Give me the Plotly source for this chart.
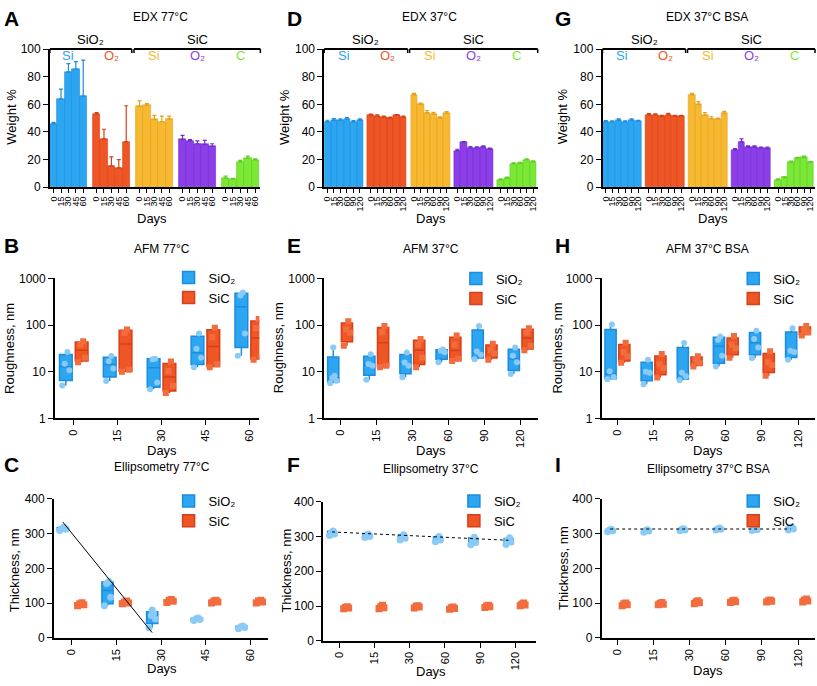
import plotly.graph_objects as go
import numpy as np

W, H = 817, 686
FONT = "Arial, 'Liberation Sans', sans-serif"

# ---------------- colours ----------------
BLUE, BLUE_D, BLUE_PT = "rgb(44,166,240)", "rgb(28,140,222)", "rgb(138,202,246)"
ORANGE, ORANGE_D, ORANGE_PT = "rgb(238,86,38)", "rgb(214,64,24)", "rgb(242,108,62)"
YELLOW, YELLOW_D = "rgb(246,185,48)", "rgb(226,160,30)"
PURPLE, PURPLE_D = "rgb(140,62,232)", "rgb(112,44,204)"
GREEN, GREEN_D = "rgb(122,232,52)", "rgb(94,204,34)"
EDX_COLS = [BLUE, ORANGE, YELLOW, PURPLE, GREEN]
EDX_COLS_D = [BLUE_D, ORANGE_D, YELLOW_D, PURPLE_D, GREEN_D]
EDX_ELEMENTS = ["Si", "O₂", "Si", "O₂", "C"]
SIO2 = "SiO₂"
SIC = "SiC"

# ---------------- EDX data (weight %) ----------------
A_DAYS = ["0", "15", "30", "45", "60"]
A_SI_SIO2 = [46, 64, 83.5, 85.5, 66]
A_SI_SIO2_ERR = [1, 7, 6, 5.5, 26]
A_O_SIO2 = [53, 35, 15.5, 14, 33]
A_O_SIO2_ERR = [1, 7, 6.5, 6, 26]
A_SI_SIC = [58.5, 59.5, 49, 47.5, 49.5]
A_SI_SIC_ERR = [4, 1, 3, 4, 2]
A_O_SIC = [34.5, 33.5, 31.5, 31, 29.5]
A_O_SIC_ERR = [3, 1, 2, 3, 2]
A_C_SIC = [6.5, 6, 18.5, 21, 20]
A_C_SIC_ERR = [1.5, 0.5, 1, 1.5, 0.5]

D_DAYS = ["0", "15", "30", "60", "90", "120"]
D_SI_SIO2 = [47.5, 48.5, 48.5, 49.5, 47.5, 48.5]
D_SI_SIO2_ERR = [1, 1.2, 1, 1, 0.8, 1]
D_O_SIO2 = [52, 51.5, 50.5, 50, 52, 50.5]
D_O_SIO2_ERR = [1, 1, 1, 0.8, 0.6, 1]
D_SI_SIC = [67, 60, 54, 53, 50, 53.5]
D_SI_SIC_ERR = [1, 1, 1.5, 1.2, 1, 1.2]
D_O_SIC = [26.5, 32.5, 28.5, 28.5, 29, 27.5]
D_O_SIC_ERR = [1, 0.6, 1, 0.8, 1, 0.8]
D_C_SIC = [5.5, 6.5, 17, 17.5, 20, 18.5]
D_C_SIC_ERR = [0.5, 0.8, 0.6, 0.6, 0.5, 0.6]

G_DAYS = ["0", "15", "30", "60", "90", "120"]
G_SI_SIO2 = [47.5, 47.5, 48.5, 47.5, 48.5, 48]
G_SI_SIO2_ERR = [0.8, 0.6, 1, 0.6, 1, 0.5]
G_O_SIO2 = [52.5, 52.5, 51.5, 52.5, 51.5, 51.5]
G_O_SIO2_ERR = [0.8, 0.6, 0.6, 1, 0.6, 0.5]
G_SI_SIC = [67, 60, 52, 49.5, 49.5, 53.5]
G_SI_SIC_ERR = [1, 2, 2, 1.5, 0.6, 1.5]
G_O_SIC = [27, 33, 29, 29, 28.5, 28]
G_O_SIC_ERR = [1, 2, 1, 1, 0.6, 1]
G_C_SIC = [5.5, 7, 18, 21, 21.5, 18]
G_C_SIC_ERR = [0.5, 0.5, 1, 0.6, 1, 0.6]

# ---------------- AFM roughness data (nm) ----------------
B_DAYS = ["0", "15", "30", "45", "60"]
B_SIO2 = [[5.1, 10.7, 14.8, 26.4], [6.3, 11.8, 16.8, 21.8], [4.2, 5.9, 18.5, 19],
          [12.5, 20, 31, 66], [22, 66, 430, 500]]
B_SIC = [[16, 20, 38, 45], [10, 11, 68, 80], [3.5, 5.0, 10.4, 16.5],
         [12.5, 14.5, 55, 88], [18, 21, 85, 135]]

E_DAYS = ["0", "15", "30", "60", "90", "120"]
E_SIO2 = [[5.7, 6.4, 7.3, 8.2, 33], [6.7, 13.4, 14.6, 23.8], [7.6, 13.4, 15.8, 25.8],
          [16, 26, 28, 30], [18.5, 23, 27, 95], [8.9, 15.9, 21.9, 32.9]]
E_SIC = [[36, 68, 80, 120], [12.5, 13.5, 70, 95], [12.5, 20, 38, 50],
         [17, 19, 38, 60], [18, 25, 29, 40], [29, 36, 69, 85]]

H_DAYS = ["0", "15", "30", "60", "90", "120"]
H_SIO2 = [[6.9, 7.7, 10.3, 103], [5.4, 9.5, 10, 18], [6.6, 8, 9.5, 41],
          [13, 22, 48, 57], [19.8, 33.2, 50.5, 75.7], [18, 26.5, 28, 85]]
H_SIC = [[15.5, 21.4, 26.5, 42], [7.5, 12, 14.5, 24], [13, 15.5, 18, 21.5],
         [20, 32, 38, 58], [8.2, 14, 16, 27.5], [60, 70, 78, 95]]

# ---------------- Ellipsometry thickness data (nm) ----------------
C_DAYS = ["0", "15", "30", "45", "60"]
C_SIO2 = [[309, 312, 315, 318], [92, 117, 156, 162], [29, 54, 64, 70, 80],
          [50, 53, 55, 57], [26, 30, 32, 34]]
C_SIC = [[92, 95, 98, 101], [98, 100, 103, 106], [102, 105, 108, 110],
         [100, 103, 106, 108], [100, 103, 106, 108]]
C_FIT = [333, 15]          # linear fit value at day 0 and day 30

F_DAYS = ["0", "15", "30", "60", "90", "120"]
F_SIO2 = [[303, 307, 311, 316], [297, 300, 304, 307], [290, 295, 300, 305],
          [285, 290, 295, 300], [276, 283, 290, 298], [277, 284, 290, 296]]
F_SIC = [[92, 94, 96, 98], [92, 95, 98, 102], [94, 97, 99, 101],
         [91, 93, 95, 97], [96, 98, 100, 102], [101, 103, 106, 109]]
F_FIT = [313, 289]         # fit at day 0 and day 120

I_DAYS = ["0", "15", "30", "60", "90", "120"]
I_SIO2 = [[305, 308, 310, 312], [304, 307, 309, 311], [308, 310, 312, 314],
          [310, 312, 314, 316], [309, 311, 313, 315], [310, 313, 316, 319]]
I_SIC = [[92, 95, 98, 100], [95, 97, 99, 102], [98, 101, 104, 107],
         [102, 104, 106, 108], [103, 105, 107, 109], [103, 106, 109, 112]]
I_FIT = [313, 313]

# ---------------- layout geometry (pixels) ----------------
DOM = {
    1: dict(x=(48, 259), y=(43, 184)),   # A
    2: dict(x=(323, 537), y=(43, 184)),  # D
    3: dict(x=(602, 815), y=(43, 184)),  # G
    4: dict(x=(53, 258), y=(277, 420)),  # B
    5: dict(x=(323, 537), y=(277, 420)), # E
    6: dict(x=(601, 815), y=(277, 420)), # H
    7: dict(x=(52, 267), y=(502, 644)),  # C
    8: dict(x=(322, 535), y=(505, 647)), # F
    9: dict(x=(601, 815), y=(502, 644)), # I
}
XR = {}

fig = go.Figure()
annotations = []
shapes = []


def xa(k):
    return "x" if k == 1 else f"x{k}"


def ya(k):
    return "y" if k == 1 else f"y{k}"


def pxx(p):
    return p / W


def pxy(p):
    return 1 - p / H


def data2px(k, x):
    d = DOM[k]["x"]
    r = XR[k]
    return d[0] + (x - r[0]) / (r[1] - r[0]) * (d[1] - d[0])


def text(x, y, t, size=12, color="black", angle=0, weight="normal"):
    annotations.append(dict(x=pxx(x), y=pxy(y), xref="paper", yref="paper", text=t,
                            showarrow=False, textangle=angle, xanchor="center", yanchor="middle",
                            font=dict(family=FONT, size=size, color=color, weight=weight)))


axis_common = dict(showline=True, linecolor="black", linewidth=1.5, ticks="outside",
                   ticklen=5, tickwidth=1.3, tickcolor="black", showgrid=False, zeroline=False,
                   tickfont=dict(family=FONT, size=12, color="black"))
layout_axes = {}


def set_axes(k, xaxis, yaxis):
    d = DOM[k]
    xd = [pxx(d["x"][0]), pxx(d["x"][1])]
    yd = [pxy(d["y"][1]), pxy(d["y"][0])]
    xname = "xaxis" if k == 1 else f"xaxis{k}"
    yname = "yaxis" if k == 1 else f"yaxis{k}"
    layout_axes[xname] = dict(axis_common, domain=xd, anchor=ya(k), **xaxis)
    layout_axes[yname] = dict(axis_common, domain=yd, anchor=xa(k), **yaxis)


# ---------------- EDX panels ----------------
def add_edx(k, days, vals, errs, gap):
    n = len(days)
    step = n + gap
    XR[k] = [-0.5, 4 * step + n - 0.5 + 0.2]
    tickvals, ticktext = [], []
    for g in range(5):
        xs = [g * step + i for i in range(n)]
        fig.add_trace(go.Bar(
            x=xs, y=vals[g], width=1,
            marker=dict(color=EDX_COLS[g], line=dict(color=EDX_COLS_D[g], width=0.6)),
            error_y=dict(type="data", symmetric=False, array=errs[g], arrayminus=[0] * n,
                         color=EDX_COLS_D[g], thickness=1.2, width=2),
            xaxis=xa(k), yaxis=ya(k), showlegend=False, hoverinfo="y"))
        tickvals += xs
        ticktext += days
        cx = data2px(k, g * step + (n - 1) / 2)
        text(cx, 50, EDX_ELEMENTS[g], size=13, color=EDX_COLS[g])
    set_axes(k,
             dict(range=XR[k], tickvals=tickvals, ticktext=ticktext, tickangle=-90, ticklen=4,
                  tickfont=dict(family=FONT, size=9, color="black")),
             dict(range=[0, 100], tickvals=[0, 20, 40, 60, 80, 100]))
    top = DOM[k]["y"][0]
    mid = (step + n - 0.5 + 2 * step - 0.5) / 2
    for (a, b, lab) in [(XR[k][0], mid - 0.15, SIO2), (mid + 0.15, XR[k][1], SIC)]:
        x0, x1 = data2px(k, a), data2px(k, b)
        shapes.append(dict(type="line", xref="paper", yref="paper", x0=pxx(x0), x1=pxx(x1),
                           y0=pxy(top), y1=pxy(top), line=dict(color="black", width=2)))
        for xx in (x0, x1):
            shapes.append(dict(type="line", xref="paper", yref="paper", x0=pxx(xx), x1=pxx(xx),
                               y0=pxy(top), y1=pxy(top + 4), line=dict(color="black", width=1.5)))
        text((x0 + x1) / 2, 33, lab, size=13)


add_edx(1, A_DAYS,
        [A_SI_SIO2, A_O_SIO2, A_SI_SIC, A_O_SIC, A_C_SIC],
        [A_SI_SIO2_ERR, A_O_SIO2_ERR, A_SI_SIC_ERR, A_O_SIC_ERR, A_C_SIC_ERR], 0.8)
add_edx(2, D_DAYS,
        [D_SI_SIO2, D_O_SIO2, D_SI_SIC, D_O_SIC, D_C_SIC],
        [D_SI_SIO2_ERR, D_O_SIO2_ERR, D_SI_SIC_ERR, D_O_SIC_ERR, D_C_SIC_ERR], 0.66)
add_edx(3, G_DAYS,
        [G_SI_SIO2, G_O_SIO2, G_SI_SIC, G_O_SIC, G_C_SIC],
        [G_SI_SIO2_ERR, G_O_SIO2_ERR, G_SI_SIC_ERR, G_O_SIC_ERR, G_C_SIC_ERR], 0.66)

# ---------------- box panels ----------------
JIT = [-0.28, 0.28, -0.08, 0.12, 0.0]


def add_box_panel(k, days, sio2, sic, xr, off, wid, msize, log, legend_id):
    n = len(days)
    XR[k] = xr
    for pts, o, fill, line, ptc, sym, name in [
        (sio2, -off, BLUE, BLUE_D, BLUE_PT, "circle", SIO2),
        (sic, off, ORANGE, ORANGE_D, ORANGE_PT, "square", SIC),
    ]:
        pos = [i + o for i in range(n)]
        q1 = [float(np.percentile(p, 25, method="weibull")) for p in pts]
        med = [float(np.percentile(p, 50, method="weibull")) for p in pts]
        q3 = [float(np.percentile(p, 75, method="weibull")) for p in pts]
        lo = [min(p) for p in pts]
        hi = [max(p) for p in pts]
        fig.add_trace(go.Box(x=pos, q1=q1, median=med, q3=q3, lowerfence=lo, upperfence=hi,
                             width=wid, fillcolor=fill, line=dict(color=line, width=1.5),
                             whiskerwidth=0, boxpoints=False, name=name, legend=legend_id,
                             showlegend=True, xaxis=xa(k), yaxis=ya(k)))
        xs, ys = [], []
        for i, p in enumerate(pts):
            for j, v in enumerate(p):
                xs.append(pos[i] + JIT[j % len(JIT)] * wid)
                ys.append(v)
        fig.add_trace(go.Scatter(x=xs, y=ys, mode="markers",
                                 marker=dict(color=ptc, size=msize, symbol=sym, line=dict(width=0)),
                                 showlegend=False, xaxis=xa(k), yaxis=ya(k)))
    xaxis = dict(range=xr, tickvals=list(range(n)), ticktext=days, tickangle=-90,
                 tickfont=dict(family=FONT, size=11, color="black"))
    if log:
        yaxis = dict(type="log", range=[0, 3], tickvals=[1, 10, 100, 1000],
                     ticktext=["1", "10", "100", "1000"])
    else:
        yaxis = dict(range=[0, 400], tickvals=[0, 100, 200, 300, 400])
    set_axes(k, xaxis, yaxis)


def add_fit(k, off, i0, i1, fit, dash):
    fig.add_trace(go.Scatter(x=[i0 - off, i1 - off], y=fit, mode="lines",
                             line=dict(color="black", width=1, dash=dash),
                             showlegend=False, xaxis=xa(k), yaxis=ya(k), hoverinfo="skip"))


add_box_panel(4, B_DAYS, B_SIO2, B_SIC, [-0.43, 4.23], 0.18, 0.29, 6, True, "legend")
add_box_panel(5, E_DAYS, E_SIO2, E_SIC, [-0.44, 5.47], 0.19, 0.31, 6, True, "legend2")
add_box_panel(6, H_DAYS, H_SIO2, H_SIC, [-0.44, 5.47], 0.19, 0.31, 6, True, "legend3")
add_box_panel(7, C_DAYS, C_SIO2, C_SIC, [-0.4, 4.4], 0.2, 0.25, 7, False, "legend4")
add_box_panel(8, F_DAYS, F_SIO2, F_SIC, [-0.45, 5.57], 0.2, 0.25, 7, False, "legend5")
add_box_panel(9, I_DAYS, I_SIO2, I_SIC, [-0.44, 5.47], 0.2, 0.25, 7, False, "legend6")
add_fit(7, 0.2, 0, 2, C_FIT, "solid")
add_fit(8, 0.2, 0, 5, F_FIT, "dot")
add_fit(9, 0.2, 0, 5, I_FIT, "dot")

# ---------------- texts ----------------
for (lx, ly, L) in [(10, 12, "A"), (293, 12, "D"), (562, 12, "G"),
                    (10, 243, "B"), (293, 243, "E"), (562, 243, "H"),
                    (10, 467, "C"), (292, 467, "F"), (557, 467, "I")]:
    text(lx, ly, L, size=21, weight="bold")

for (tx, ty, t) in [(159, 10, "EDX 77°C"), (429, 10, "EDX 37°C"), (707, 10, "EDX 37°C BSA"),
                    (160, 247, "AFM 77°C"), (430, 247, "AFM 37°C"), (707, 247, "AFM 37°C BSA"),
                    (160, 470, "Ellipsometry 77°C"), (430, 472, "Ellipsometry 37°C"),
                    (708, 472, "Ellipsometry 37°C BSA")]:
    text(tx, ty, t, size=12)

for (tx, ty) in [(150, 216), (430, 216), (713, 216), (160, 453), (430, 453), (708, 453),
                 (160, 675), (430, 678), (708, 677)]:
    text(tx, ty, "Days", size=13)

for (tx, ty, t) in [(10, 112, "Weight %"), (283, 112, "Weight %"), (562, 112, "Weight %"),
                    (8, 348, "Roughness, nm"), (278, 348, "Roughness, nm"), (557, 348, "Roughness, nm"),
                    (12, 575, "Thickness, nm"), (285, 575, "Thickness, nm"), (563, 573, "Thickness, nm")]:
    text(tx, ty, t, size=13, angle=-90)

# ---------------- legends ----------------
leg_common = dict(xanchor="left", yanchor="top", bgcolor="rgba(0,0,0,0)", borderwidth=0,
                  font=dict(family=FONT, size=13, color="black"), tracegroupgap=0,
                  itemclick=False, itemdoubleclick=False)
legends = {}
for lid, (lx, ly) in zip(["legend", "legend2", "legend3", "legend4", "legend5", "legend6"],
                         [(167, 261), (455, 262), (733, 262), (167, 489), (453, 489), (733, 489)]):
    legends[lid] = dict(leg_common, x=pxx(lx), y=pxy(ly))

fig.update_layout(
    width=W, height=H, margin=dict(l=0, r=0, t=0, b=0),
    paper_bgcolor="white", plot_bgcolor="white",
    font=dict(family=FONT, size=12, color="black"),
    showlegend=True, bargap=0,
    annotations=annotations, shapes=shapes,
    **layout_axes, **legends,
)

fig.write_html("out.html")
